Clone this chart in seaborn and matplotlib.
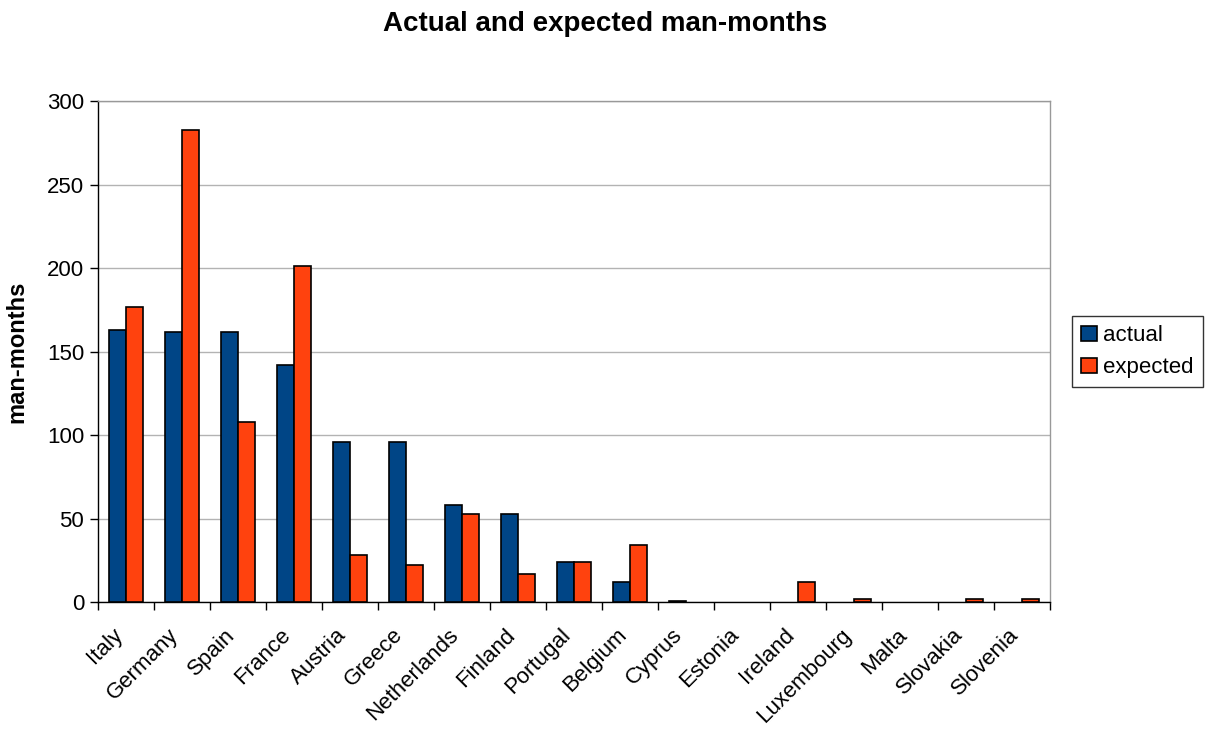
import pandas as pd
import matplotlib
matplotlib.use("Agg")
import matplotlib.pyplot as plt
import matplotlib.transforms as mtransforms
import seaborn as sns

# DADOS

countries = ["Italy", "Germany", "Spain", "France", "Austria", "Greece",
             "Netherlands", "Finland", "Portugal", "Belgium", "Cyprus",
             "Estonia", "Ireland", "Luxembourg", "Malta", "Slovakia", "Slovenia"]
actual = [163, 162, 162, 142, 96, 96, 58, 53, 24, 12, 1, 0, 0, 0, 0, 0, 0]
expected = [177, 283, 108, 201, 28, 22, 53, 17, 24, 34, 0, 0, 12, 2, 0, 2, 2]
series = ["actual", "expected"]
yticks = [0, 50, 100, 150, 200, 250, 300]

df = pd.DataFrame({
    "country": countries * 2,
    "serie": [series[0]] * len(countries) + [series[1]] * len(countries),
    "valor": actual + expected,
})

# GRÁFICO

sns.set_style("white")
plt.rcParams["font.family"] = ["Liberation Sans", "DejaVu Sans"]
plt.rcParams["text.color"] = "black"
plt.rcParams["axes.labelcolor"] = "black"

fig = plt.figure(figsize=(12.1, 7.38), dpi=100)
ax = fig.add_axes([0.081, 0.184, 0.787, 0.679])

sns.barplot(data=df, x="country", y="valor", hue="serie", order=countries,
            hue_order=series, palette=["#004586", "#ff420e"], width=0.6,
            edgecolor="black", linewidth=1.2, saturation=1, ax=ax, zorder=3)

# barras com valor zero não aparecem
for p in ax.patches:
    if p.get_height() == 0:
        p.set_linewidth(0)

ax.set_ylim(0, 300)
ax.set_xlim(-0.5, len(countries) - 0.5)
ax.set_yticks(yticks)
ax.set_yticklabels([str(t) for t in yticks], fontsize=16)
ax.yaxis.grid(True, color="#b3b3b3", linewidth=1, zorder=0)
ax.set_axisbelow(True)

# marcas entre categorias, rótulos no centro
n = len(countries)
ax.set_xticks([i - 0.5 for i in range(n + 1)])
ax.set_xticklabels([])
ax.set_xticks(range(n), minor=True)
ax.set_xticklabels(countries, minor=True, rotation=45, ha="right",
                   va="top", rotation_mode="anchor", fontsize=16)
ax.tick_params(axis="x", which="major", direction="out", length=6, width=1,
               color="black", bottom=True)
ax.tick_params(axis="x", which="minor", length=0, pad=16, labelcolor="black")
ax.tick_params(axis="y", direction="out", length=6, width=1, color="black",
               left=True, pad=4, labelcolor="black")

desloc = mtransforms.ScaledTranslation(-0.14, 0, fig.dpi_scale_trans)
for lbl in ax.get_xticklabels(minor=True):
    lbl.set_transform(lbl.get_transform() + desloc)

for s in ["top", "right"]:
    ax.spines[s].set_color("#999999")
for s in ["left", "bottom"]:
    ax.spines[s].set_color("black")
for s in ax.spines.values():
    s.set_linewidth(1)

ax.set_xlabel("")
ax.set_ylabel("man-months", fontsize=17, fontweight="bold", labelpad=13)
fig.suptitle("Actual and expected man-months", fontsize=20, fontweight="bold",
             y=0.985)

leg = ax.legend(loc="center left", bbox_to_anchor=(1.023, 0.5), fontsize=16,
                frameon=True, fancybox=False, edgecolor="black",
                borderaxespad=0, handlelength=0.7, handleheight=0.7,
                handletextpad=0.3, borderpad=0.4, labelspacing=0.5)
leg.get_frame().set_linewidth(1)
for h in leg.legend_handles:
    h.set_edgecolor("black")
    h.set_linewidth(1.2)

plt.savefig("out.png", dpi=100)
